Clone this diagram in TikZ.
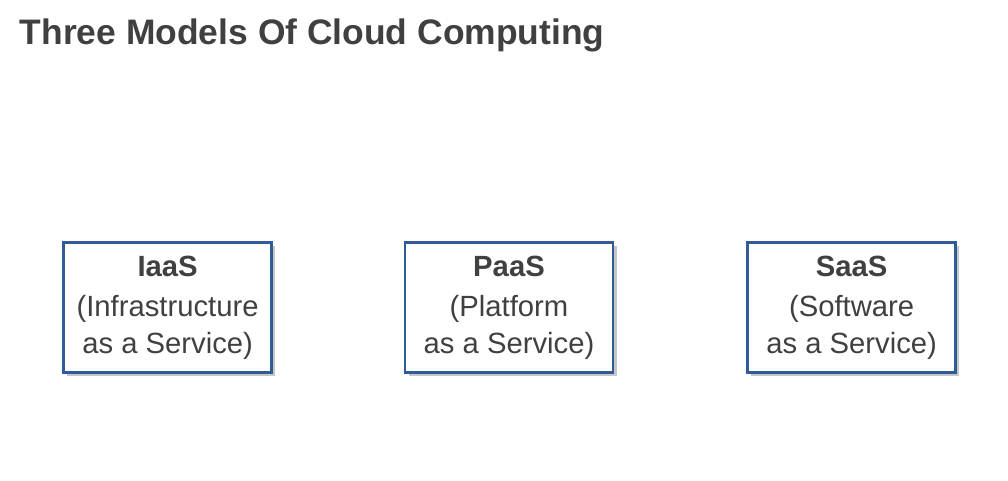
\documentclass[tikz,border=0pt]{standalone}
\usepackage{fontspec}
\setmainfont{Liberation Sans}
\usepackage{xcolor}
\usetikzlibrary{positioning, shadows}

\definecolor{boxblue}{HTML}{2F5C98}
\definecolor{txtgray}{HTML}{404040}

\begin{document}
\begin{tikzpicture}[
  every node/.style={inner sep=2pt},
  title/.style={font=\fontsize{25.2}{30}\selectfont\bfseries, text=txtgray, anchor=base west},
  model/.style={draw=boxblue, line width=1.6pt, fill=white, minimum width=5.2cm,
                minimum height=3.25cm, align=center, text=txtgray,
                font=\fontsize{20.8}{26}\selectfont,
                drop shadow={opacity=0.45, shadow xshift=2.5pt, shadow yshift=-2.5pt}}
]
\useasboundingbox (0,0) rectangle (25.2,12);
\node[title] (head) at (0.42,10.875) {Three Models Of Cloud Computing};
\node[model] (iaas) at (4.19,4.31)   {\textbf{IaaS}\\[3pt](Infrastructure\\as a Service)};
\node[model] (paas) at (12.725,4.31) {\textbf{PaaS}\\[3pt](Platform\\as a Service)};
\node[model] (saas) at (21.29,4.31)  {\textbf{SaaS}\\[3pt](Software\\as a Service)};
\end{tikzpicture}
\end{document}
